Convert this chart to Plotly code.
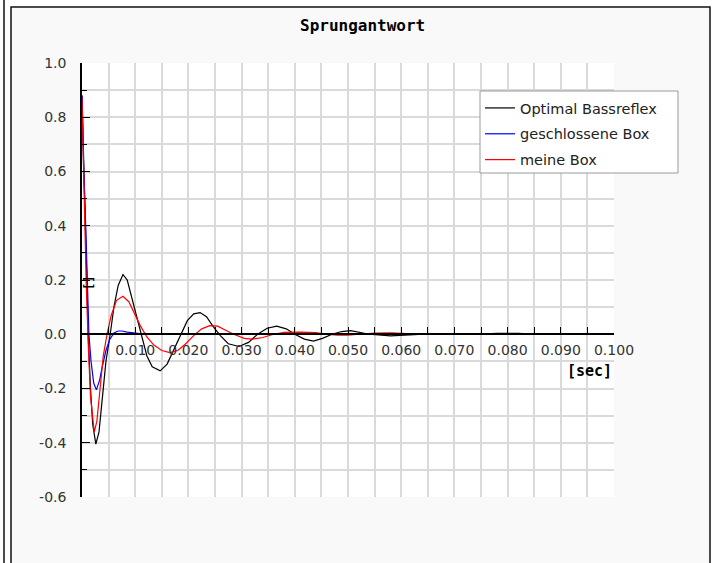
import plotly.graph_objects as go

# ---- data ----
t_black = [0.0, 0.0004, 0.0008, 0.0012, 0.0016, 0.0020, 0.0026, 0.0032, 0.0038, 0.0045,
           0.0053, 0.0060, 0.0068, 0.0077, 0.0085, 0.0094, 0.0104, 0.0113, 0.0122, 0.0132,
           0.0147, 0.0160, 0.0172, 0.0185, 0.0198, 0.0210, 0.0222, 0.0234, 0.0246, 0.0260,
           0.0275, 0.0295, 0.0313, 0.0330, 0.0348, 0.0366, 0.0384, 0.0400, 0.0418, 0.0435,
           0.0452, 0.0470, 0.0488, 0.0505, 0.0522, 0.0540, 0.0580, 0.0620, 0.0660, 0.0700,
           0.0740, 0.0780, 0.0820, 0.0860, 0.1000]
y_black = [0.88, 0.55, 0.22, -0.02, -0.20, -0.33, -0.405, -0.36, -0.24, -0.10,
           0.0, 0.10, 0.18, 0.22, 0.20, 0.13, 0.05, -0.02, -0.08, -0.12,
           -0.135, -0.11, -0.06, 0.0, 0.05, 0.075, 0.08, 0.065, 0.03, -0.005,
           -0.035, -0.045, -0.03, 0.0, 0.022, 0.03, 0.02, 0.0, -0.018, -0.025,
           -0.015, 0.0, 0.010, 0.013, 0.008, 0.0, -0.006, -0.002, 0.002, 0.002,
           0.0, 0.003, 0.003, 0.0, 0.0]

t_blue = [0.0, 0.0003, 0.0007, 0.0010, 0.0013, 0.0017, 0.0022, 0.0027, 0.0033, 0.0038,
          0.0045, 0.0052, 0.0060, 0.0068, 0.0075, 0.0085, 0.0095, 0.0110, 0.0120]
y_blue = [0.88, 0.62, 0.40, 0.20, 0.0, -0.10, -0.18, -0.205, -0.17, -0.12,
          -0.06, -0.02, 0.005, 0.012, 0.012, 0.008, 0.005, 0.002, 0.0]

t_red = [0.0, 0.0004, 0.0008, 0.0012, 0.0016, 0.0023, 0.0028, 0.0034, 0.0040, 0.0047,
         0.0055, 0.0065, 0.0077, 0.0088, 0.0100, 0.0110, 0.0122, 0.0135, 0.0150, 0.0165,
         0.0180, 0.0195, 0.0210, 0.0225, 0.0240, 0.0255, 0.0270, 0.0285, 0.0305, 0.0320,
         0.0340, 0.0360, 0.0380, 0.0410, 0.0440, 0.0460, 0.0480, 0.0500, 0.0520, 0.0550,
         0.0580, 0.0610, 0.0640]
y_red = [0.87, 0.50, 0.18, -0.05, -0.23, -0.36, -0.32, -0.20, -0.08, 0.0,
         0.07, 0.125, 0.14, 0.12, 0.07, 0.03, -0.01, -0.04, -0.06, -0.068,
         -0.06, -0.035, -0.005, 0.02, 0.032, 0.03, 0.015, 0.0, -0.015, -0.018,
         -0.012, 0.0, 0.007, 0.008, 0.006, 0.0, -0.003, -0.003, 0.0, 0.004,
         0.005, 0.003, 0.0]

names = ["Optimal Bassreflex", "geschlossene Box", "meine Box"]
colors = ["#000000", "#0000ff", "#ff0000"]

x_ticks = [0.01, 0.02, 0.03, 0.04, 0.05, 0.06, 0.07, 0.08, 0.09, 0.10]
x_tick_labels = ["0.010", "0.020", "0.030", "0.040", "0.050",
                 "0.060", "0.070", "0.080", "0.090", "0.100"]
y_ticks = [-0.6, -0.4, -0.2, 0.0, 0.2, 0.4, 0.6, 0.8, 1.0]
y_tick_labels = ["-0.6", "-0.4", "-0.2", "0.0", "0.2", "0.4", "0.6", "0.8", "1.0"]

title_text = "Sprungantwort"
x_title = "[sec]"
y_title = "[]"

# ---- figure ----
fig = go.Figure()
for (tx, ty), name, col in zip([(t_black, y_black), (t_blue, y_blue), (t_red, y_red)], names, colors):
    fig.add_trace(go.Scatter(x=tx, y=ty, mode="lines", name=name, legendgroup=name,
                             line=dict(color=col, width=1.2)))

W, H = 715, 563
L, R, T, B = 82, 614, 63, 497


def px(xp):
    return (xp - L) / (R - L)


def py(yp):
    return (B - yp) / (B - T)


mono = "DejaVu Sans Mono"
sans = "DejaVu Sans"

fig.update_layout(
    width=W, height=H,
    margin=dict(l=L, r=W - R, t=T, b=H - B, pad=0),
    paper_bgcolor="#ffffff",
    plot_bgcolor="#ffffff",
    showlegend=True,
    legend=dict(x=px(480), y=py(92), xanchor="left", yanchor="top",
                bgcolor="rgba(0,0,0,0)", borderwidth=0,
                font=dict(family=sans, size=14.5, color="#222222"),
                tracegroupgap=4, traceorder="grouped"),
    xaxis=dict(range=[0, 0.1], anchor="free", position=0.375,
               tickmode="array", tickvals=x_ticks, ticktext=x_tick_labels,
               ticks="inside", ticklen=7, tickwidth=1, tickcolor="#000000",
               showline=True, linecolor="#000000", linewidth=1.5,
               showgrid=True, gridcolor="#dadada", gridwidth=1.5,
               zeroline=False, ticklabelstandoff=3,
               tickfont=dict(family=sans, size=14, color="#333333"),
               minor=dict(dtick=0.005, tick0=0, ticks="inside", ticklen=7,
                          tickcolor="#000000", showgrid=True,
                          gridcolor="#dadada", gridwidth=1.5)),
    yaxis=dict(range=[-0.6, 1.0], tickmode="array", tickvals=y_ticks, ticktext=y_tick_labels,
               ticks="inside", ticklen=8, tickwidth=1, tickcolor="#000000",
               showline=True, linecolor="#000000", linewidth=1.5,
               showgrid=True, gridcolor="#dadada", gridwidth=1.5,
               zeroline=False, ticklabelstandoff=11,
               tickfont=dict(family=sans, size=14, color="#333333"),
               minor=dict(dtick=0.1, tick0=0, ticks="inside", ticklen=5,
                          tickcolor="#000000", showgrid=True,
                          gridcolor="#dadada", gridwidth=1.5)),
    shapes=[
        dict(type="rect", xref="paper", yref="paper", layer="below",
             x0=px(11), x1=px(710), y0=py(H + 10), y1=py(7),
             fillcolor="#f9f9f9", line=dict(color="#111111", width=1.5)),
        dict(type="rect", xref="paper", yref="paper", layer="below",
             x0=0, x1=1, y0=0, y1=1, fillcolor="#ffffff", line=dict(width=0)),
        dict(type="line", xref="paper", yref="paper", layer="below",
             x0=px(4), x1=px(4), y0=py(0), y1=py(H),
             line=dict(color="#111111", width=1.5)),
        # legend box
        dict(type="rect", xref="paper", yref="paper", layer="above",
             x0=px(480), x1=px(678), y0=py(173), y1=py(91),
             fillcolor="#ffffff", line=dict(color="#9a9a9a", width=1)),
    ],
    annotations=[
        dict(text="<b>" + title_text + "</b>", xref="paper", yref="paper", x=px(362), y=py(26),
             showarrow=False, font=dict(family=mono, size=16, color="#000000"),
             xanchor="center", yanchor="middle"),
        dict(text="<b>" + x_title + "</b>", xref="paper", yref="paper", x=px(589), y=py(371),
             showarrow=False, font=dict(family=mono, size=15, color="#000000"),
             xanchor="center", yanchor="middle"),
        dict(text="<b>" + y_title + "</b>", xref="paper", yref="paper", x=px(89), y=py(283),
             showarrow=False, textangle=-90, font=dict(family=mono, size=12, color="#000000"),
             xanchor="center", yanchor="middle"),
    ],
)

fig.write_html("out.html", config={"displayModeBar": False},
               post_script="document.body.style.margin='0';document.body.style.overflow='hidden';")
